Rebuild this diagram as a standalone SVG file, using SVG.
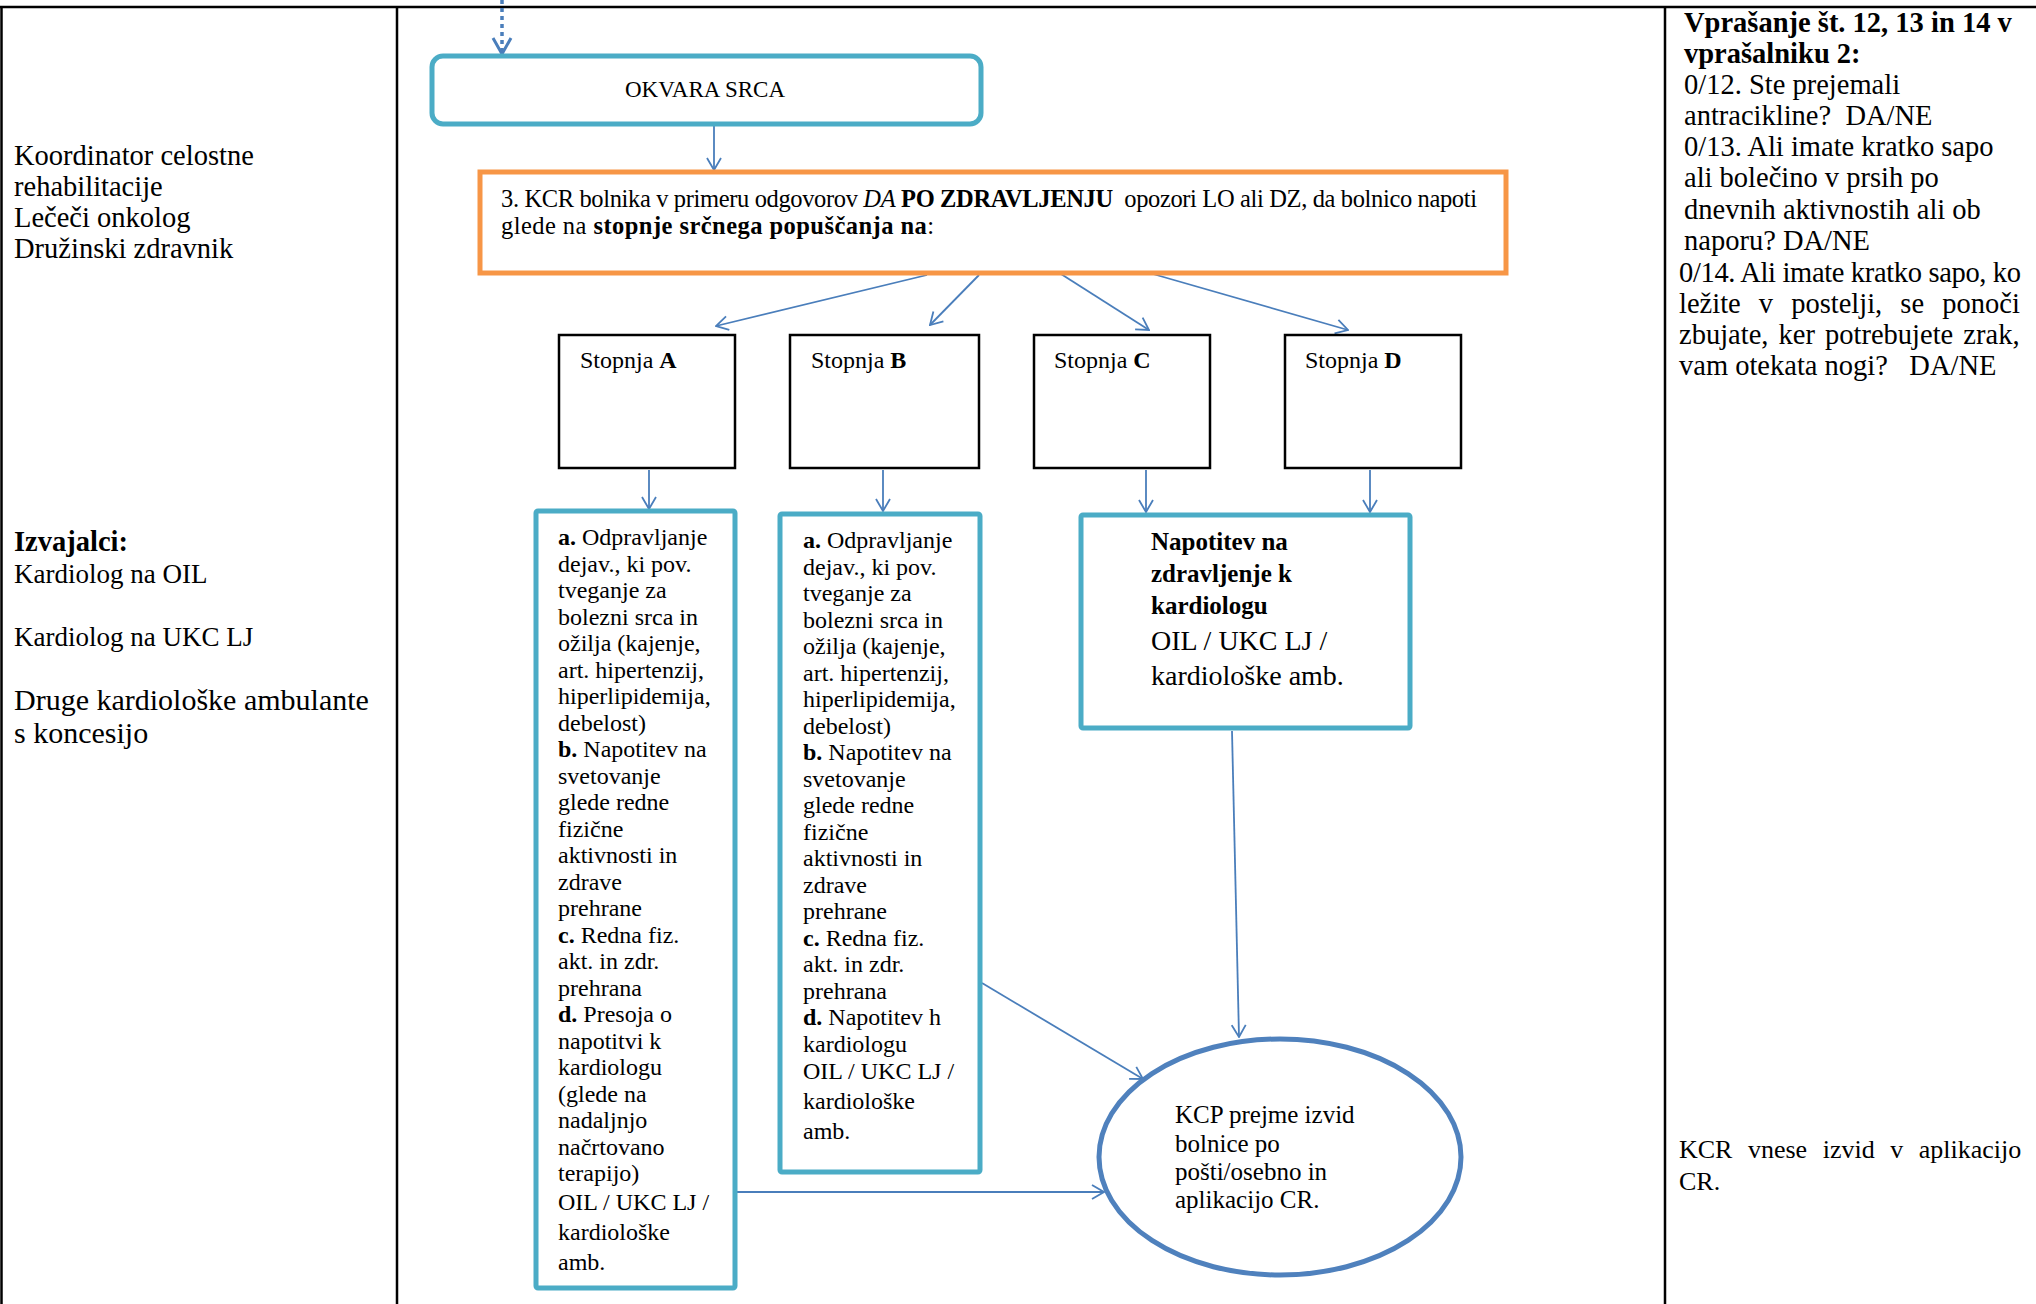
<svg xmlns="http://www.w3.org/2000/svg" width="2036" height="1304" viewBox="0 0 2036 1304">
  <style>
    text { font-family: "Liberation Serif", "Times New Roman", serif; fill: #000; }
    .b { font-weight: bold; }
    .grid { stroke: #000; stroke-width: 2.5; fill: none; }
    .teal { fill: #fff; stroke: #4BACC6; stroke-width: 5; }
    .stage { fill: #fff; stroke: #000; stroke-width: 2.5; }
    .conn { stroke: #4A7EBB; stroke-width: 1.8; fill: none; marker-end: url(#arr); }
    .t24 { font-size: 24px; }
    .col { font-size: 28.5px; }
  </style>
  <defs>
    <marker id="arr" viewBox="0 0 14 16" refX="13" refY="8" markerWidth="14" markerHeight="16" markerUnits="userSpaceOnUse" orient="auto">
      <path d="M1,1 L13,8 L1,15" fill="none" stroke="#4A7EBB" stroke-width="1.8"/>
    </marker>
    <marker id="arrBig" viewBox="0 0 20 22" refX="18" refY="11" markerWidth="20" markerHeight="22" markerUnits="userSpaceOnUse" orient="auto">
      <path d="M2,2 L18,11 L2,20" fill="none" stroke="#4A7EBB" stroke-width="3"/>
    </marker>
  </defs>

  <rect width="2036" height="1304" fill="#fff"/>

  <!-- table grid -->
  <g id="grid">
    <line class="grid" x1="0" y1="7" x2="2036" y2="7"/>
    <line class="grid" x1="1.5" y1="6" x2="1.5" y2="1304"/>
    <line class="grid" x1="397" y1="6" x2="397" y2="1304"/>
    <line class="grid" x1="1665" y1="6" x2="1665" y2="1304"/>
  </g>

  <!-- left column: roles -->
  <g id="roles">
    <text x="14" y="165" font-size="28.5">Koordinator celostne</text>
    <text x="14" y="196" font-size="28.5">rehabilitacije</text>
    <text x="14" y="227" font-size="28.5">Lečeči onkolog</text>
    <text x="14" y="258" font-size="28.5">Družinski zdravnik</text>
  </g>
  <g id="providers">
    <text x="14" y="551" font-size="28.5" class="b">Izvajalci:</text>
    <text x="14" y="583" font-size="27">Kardiolog na OIL</text>
    <text x="14" y="646" font-size="27">Kardiolog na UKC LJ</text>
    <text x="14" y="710" font-size="30">Druge kardiološke ambulante</text>
    <text x="14" y="743" font-size="30">s koncesijo</text>
  </g>

  <!-- right column: questionnaire -->
  <g id="questions">
    <text x="1684" y="32" font-size="28.5" class="b">Vprašanje št. 12, 13 in 14 v</text>
    <text x="1684" y="63" font-size="28.5" class="b">vprašalniku 2:</text>
    <text x="1684" y="94" class="col">0/12. Ste prejemali</text>
    <text x="1684" y="125" class="col" xml:space="preserve">antracikline?  DA/NE</text>
    <text x="1684" y="156" class="col">0/13. Ali imate kratko sapo</text>
    <text x="1684" y="187" class="col">ali bolečino v prsih po</text>
    <text x="1684" y="219" class="col">dnevnih aktivnostih ali ob</text>
    <text x="1684" y="250" class="col">naporu? DA/NE</text>
    <text x="1679" y="282" class="col" textLength="342" lengthAdjust="spacing">0/14. Ali imate kratko sapo, ko</text>
    <text x="1679" y="313" class="col" word-spacing="11">ležite v postelji, se ponoči</text>
    <text x="1679" y="344" class="col" word-spacing="3">zbujate, ker potrebujete zrak,</text>
    <text x="1679" y="375" class="col" xml:space="preserve">vam otekata nogi?   DA/NE</text>
  </g>
  <g id="entry">
    <text x="1679" y="1158" font-size="26" word-spacing="9">KCR vnese izvid v aplikacijo</text>
    <text x="1679" y="1190" font-size="26">CR.</text>
  </g>

  <!-- connectors -->
  <g id="connectors">
    <line x1="502" y1="0" x2="502" y2="54" stroke="#4A7EBB" stroke-width="3.5" stroke-dasharray="4 4" marker-end="url(#arrBig)"/>
    <line class="conn" x1="714" y1="125" x2="714" y2="170"/>
    <line class="conn" x1="927" y1="275" x2="716" y2="326"/>
    <line class="conn" x1="979" y1="275" x2="930" y2="325"/>
    <line class="conn" x1="1061" y1="274" x2="1149" y2="330"/>
    <line class="conn" x1="1153" y1="274" x2="1348" y2="330"/>
    <line class="conn" x1="649" y1="470" x2="649" y2="509"/>
    <line class="conn" x1="883" y1="470" x2="883" y2="511"/>
    <line class="conn" x1="1146" y1="470" x2="1146" y2="512"/>
    <line class="conn" x1="1370" y1="470" x2="1370" y2="512"/>
    <line class="conn" x1="982" y1="983" x2="1143" y2="1079"/>
    <line class="conn" x1="737" y1="1192" x2="1104" y2="1192"/>
    <line class="conn" x1="1232" y1="731" x2="1239" y2="1037"/>
  </g>

  <!-- heart failure start -->
  <g id="okvara">
    <rect x="432" y="56" width="549" height="68" rx="11" class="teal"/>
    <text x="705" y="97" font-size="23" text-anchor="middle">OKVARA SRCA</text>
  </g>

  <!-- step 3 -->
  <g id="step3">
    <rect x="480" y="172" width="1026" height="101" fill="#fff" stroke="#F79646" stroke-width="5"/>
    <text x="501" y="207" font-size="24.5" textLength="976" lengthAdjust="spacing" xml:space="preserve">3. KCR bolnika v primeru odgovorov <tspan font-style="italic">DA</tspan> <tspan class="b">PO ZDRAVLJENJU</tspan>  opozori LO ali DZ, da bolnico napoti</text>
    <text x="501" y="234" font-size="24.5" textLength="433" lengthAdjust="spacing">glede na <tspan class="b">stopnje srčnega popuščanja na</tspan>:</text>
  </g>

  <!-- stages -->
  <g id="stopnjaA">
    <rect x="559" y="335" width="176" height="133" class="stage"/>
    <text x="580" y="368" class="t24">Stopnja <tspan class="b">A</tspan></text>
  </g>
  <g id="stopnjaB">
    <rect x="790" y="335" width="189" height="133" class="stage"/>
    <text x="811" y="368" class="t24">Stopnja <tspan class="b">B</tspan></text>
  </g>
  <g id="stopnjaC">
    <rect x="1034" y="335" width="176" height="133" class="stage"/>
    <text x="1054" y="368" class="t24">Stopnja <tspan class="b">C</tspan></text>
  </g>
  <g id="stopnjaD">
    <rect x="1285" y="335" width="176" height="133" class="stage"/>
    <text x="1305" y="368" class="t24">Stopnja <tspan class="b">D</tspan></text>
  </g>

  <!-- measures for stage A -->
  <g id="ukrepiA">
    <rect x="536" y="511" width="199" height="777" rx="2" class="teal"/>
    <text class="t24">
      <tspan x="558" y="545"><tspan class="b">a.</tspan> Odpravljanje</tspan>
      <tspan x="558" y="571.5">dejav., ki pov.</tspan>
      <tspan x="558" y="598">tveganje za</tspan>
      <tspan x="558" y="624.5">bolezni srca in</tspan>
      <tspan x="558" y="651">ožilja (kajenje,</tspan>
      <tspan x="558" y="677.5">art. hipertenzij,</tspan>
      <tspan x="558" y="704">hiperlipidemija,</tspan>
      <tspan x="558" y="730.5">debelost)</tspan>
      <tspan x="558" y="757"><tspan class="b">b.</tspan> Napotitev na</tspan>
      <tspan x="558" y="783.5">svetovanje</tspan>
      <tspan x="558" y="810">glede redne</tspan>
      <tspan x="558" y="836.5">fizične</tspan>
      <tspan x="558" y="863">aktivnosti in</tspan>
      <tspan x="558" y="889.5">zdrave</tspan>
      <tspan x="558" y="916">prehrane</tspan>
      <tspan x="558" y="942.5"><tspan class="b">c.</tspan> Redna fiz.</tspan>
      <tspan x="558" y="969">akt. in zdr.</tspan>
      <tspan x="558" y="995.5">prehrana</tspan>
      <tspan x="558" y="1022"><tspan class="b">d.</tspan> Presoja o</tspan>
      <tspan x="558" y="1048.5">napotitvi k</tspan>
      <tspan x="558" y="1075">kardiologu</tspan>
      <tspan x="558" y="1101.5">(glede na</tspan>
      <tspan x="558" y="1128">nadaljnjo</tspan>
      <tspan x="558" y="1154.5">načrtovano</tspan>
      <tspan x="558" y="1181">terapijo)</tspan>
      <tspan x="558" y="1210">OIL / UKC LJ /</tspan>
      <tspan x="558" y="1240">kardiološke</tspan>
      <tspan x="558" y="1270">amb.</tspan>
    </text>
  </g>

  <!-- measures for stage B -->
  <g id="ukrepiB">
    <rect x="780" y="514" width="200" height="658" rx="2" class="teal"/>
    <text class="t24">
      <tspan x="803" y="548"><tspan class="b">a.</tspan> Odpravljanje</tspan>
      <tspan x="803" y="574.5">dejav., ki pov.</tspan>
      <tspan x="803" y="601">tveganje za</tspan>
      <tspan x="803" y="627.5">bolezni srca in</tspan>
      <tspan x="803" y="654">ožilja (kajenje,</tspan>
      <tspan x="803" y="680.5">art. hipertenzij,</tspan>
      <tspan x="803" y="707">hiperlipidemija,</tspan>
      <tspan x="803" y="733.5">debelost)</tspan>
      <tspan x="803" y="760"><tspan class="b">b.</tspan> Napotitev na</tspan>
      <tspan x="803" y="786.5">svetovanje</tspan>
      <tspan x="803" y="813">glede redne</tspan>
      <tspan x="803" y="839.5">fizične</tspan>
      <tspan x="803" y="866">aktivnosti in</tspan>
      <tspan x="803" y="892.5">zdrave</tspan>
      <tspan x="803" y="919">prehrane</tspan>
      <tspan x="803" y="945.5"><tspan class="b">c.</tspan> Redna fiz.</tspan>
      <tspan x="803" y="972">akt. in zdr.</tspan>
      <tspan x="803" y="998.5">prehrana</tspan>
      <tspan x="803" y="1025"><tspan class="b">d.</tspan> Napotitev h</tspan>
      <tspan x="803" y="1051.5">kardiologu</tspan>
      <tspan x="803" y="1079">OIL / UKC LJ /</tspan>
      <tspan x="803" y="1109">kardiološke</tspan>
      <tspan x="803" y="1139">amb.</tspan>
    </text>
  </g>

  <!-- referral for stages C and D -->
  <g id="napotitevCD">
    <rect x="1081" y="515" width="329" height="213" rx="2" class="teal"/>
    <text x="1151" y="550" font-size="25" class="b">Napotitev na</text>
    <text x="1151" y="582" font-size="25" class="b">zdravljenje k</text>
    <text x="1151" y="614" font-size="25" class="b">kardiologu</text>
    <text x="1151" y="650" font-size="28">OIL / UKC LJ /</text>
    <text x="1151" y="685" font-size="28">kardiološke amb.</text>
  </g>

  <!-- report received -->
  <g id="izvid">
    <ellipse cx="1280" cy="1157" rx="181" ry="118" fill="#fff" stroke="#4F81BD" stroke-width="5"/>
    <text x="1175" y="1123" font-size="25">KCP prejme izvid</text>
    <text x="1175" y="1152" font-size="25">bolnice po</text>
    <text x="1175" y="1180" font-size="25">pošti/osebno in</text>
    <text x="1175" y="1208" font-size="25">aplikacijo CR.</text>
  </g>
</svg>
